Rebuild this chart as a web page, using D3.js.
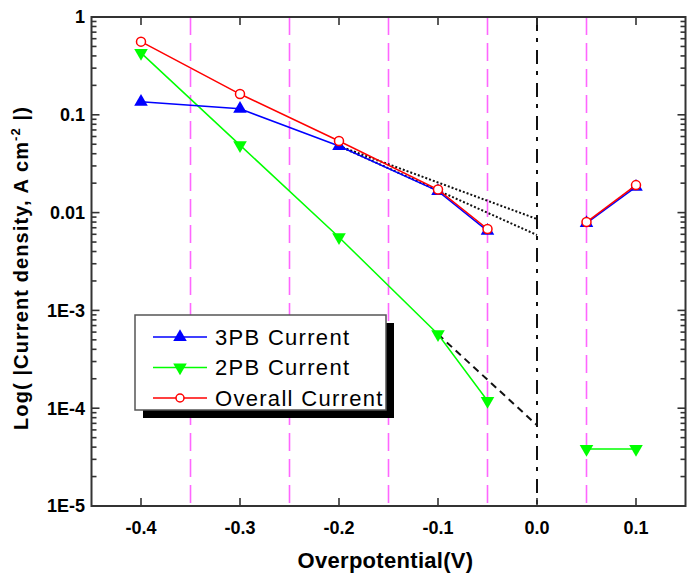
<!DOCTYPE html>
<html>
<head>
<meta charset="utf-8">
<script src="https://cdn.jsdelivr.net/npm/d3@7"></script>
<style>
  html, body { margin: 0; padding: 0; background: #fff; }
  svg { display: block; font-family: "Liberation Sans", Arial, sans-serif; }
</style>
</head>
<body>
<svg id="chart" width="696" height="575"></svg>
<script>
// Overpotential (V) at which currents were measured
const potentials = [-0.4, -0.3, -0.2, -0.1, -0.05, 0.05, 0.1];
// |current density| in A cm^-2
const current3PB = [0.136, 0.115, 0.048, 0.0166, 0.0065, 0.0078, 0.0183];
const current2PB = [0.43, 0.049, 0.0056, 0.00057, 0.000119, 0.0000383, 0.0000383];
const currentOverall = [0.56, 0.163, 0.054, 0.0172, 0.0068, 0.0080, 0.0191];

// Tafel extrapolations towards zero overpotential
const tafelUpper = [[-0.2, 0.048], [0.0, 0.0086]];
const tafelLower = [[-0.2, 0.048], [0.0, 0.0059]];
const tafel2PB = [[-0.1, 0.00057], [0.0, 0.000067]];

// Reference potentials marked with vertical guides
const guidePotentials = [-0.35, -0.25, -0.15, -0.05, 0.05];
const zeroPotential = 0.0;

const xTicks = [-0.4, -0.3, -0.2, -0.1, 0.0, 0.1];
const xTickLabels = ["-0.4", "-0.3", "-0.2", "-0.1", "0.0", "0.1"];
const yTicks = [1e-5, 1e-4, 1e-3, 1e-2, 1e-1, 1];
const yTickLabels = ["1E-5", "1E-4", "1E-3", "0.01", "0.1", "1"];

const seriesNames = ["3PB Current", "2PB Current", "Overall Current"];

const svg = d3.select("#chart");
const L = 91.5, R = 685.5, T = 17, B = 506;

const x = d3.scaleLinear().domain([-0.45, 0.15]).range([L, R]);
const y = d3.scaleLog().domain([1e-5, 1]).range([B, T]);

// vertical guides
svg.append("g").selectAll("line").data(guidePotentials).join("line")
  .attr("x1", d => x(d)).attr("x2", d => x(d))
  .attr("y1", T).attr("y2", B)
  .attr("stroke", "#ff66ff").attr("stroke-width", 1.6)
  .attr("stroke-dasharray", "18,8");

svg.append("line")
  .attr("x1", x(zeroPotential)).attr("x2", x(zeroPotential))
  .attr("y1", T).attr("y2", B)
  .attr("stroke", "#111").attr("stroke-width", 2)
  .attr("stroke-dasharray", "14,7,4,8");

// minor log ticks
const minor = [];
for (let e = -5; e < 0; e++) for (let m = 2; m <= 9; m++) minor.push(m * Math.pow(10, e));

const axisColor = "#333";
const tickG = svg.append("g").attr("stroke", axisColor).attr("stroke-width", 1.6);
tickG.selectAll(".yminL").data(minor).join("line")
  .attr("x1", L).attr("x2", L + 5).attr("y1", d => y(d)).attr("y2", d => y(d));
tickG.selectAll(".yminR").data(minor).join("line")
  .attr("x1", R).attr("x2", R - 5).attr("y1", d => y(d)).attr("y2", d => y(d));
tickG.selectAll(".ymajL").data(yTicks).join("line")
  .attr("x1", L).attr("x2", L + 8).attr("y1", d => y(d)).attr("y2", d => y(d));
tickG.selectAll(".ymajR").data(yTicks).join("line")
  .attr("x1", R).attr("x2", R - 8).attr("y1", d => y(d)).attr("y2", d => y(d));
tickG.selectAll(".xB").data(xTicks).join("line")
  .attr("x1", d => x(d)).attr("x2", d => x(d)).attr("y1", B).attr("y2", B - 8);
tickG.selectAll(".xT").data(xTicks).join("line")
  .attr("x1", d => x(d)).attr("x2", d => x(d)).attr("y1", T).attr("y2", T + 8);

// frame
svg.append("rect").attr("x", L).attr("y", T).attr("width", R - L).attr("height", B - T)
  .attr("fill", "none").attr("stroke", axisColor).attr("stroke-width", 2);

// tick labels
svg.append("g").selectAll("text").data(xTicks).join("text")
  .attr("x", d => x(d)).attr("y", 534)
  .attr("text-anchor", "middle").attr("font-weight", "bold").attr("font-size", 18)
  .text((d, i) => xTickLabels[i]);
svg.append("g").selectAll("text").data(yTicks).join("text")
  .attr("x", 85).attr("y", d => y(d)).attr("dy", "0.36em")
  .attr("text-anchor", "end").attr("font-weight", "bold").attr("font-size", 18)
  .text((d, i) => yTickLabels[i]);

// axis titles
svg.append("text").attr("x", (L + R) / 2 - 3).attr("y", 568)
  .attr("text-anchor", "middle").attr("font-weight", "bold").attr("font-size", 22)
  .attr("letter-spacing", 0.3)
  .text("Overpotential(V)");
const yt = svg.append("text")
  .attr("transform", "translate(28,268) rotate(-90)")
  .attr("text-anchor", "middle").attr("font-weight", "bold").attr("font-size", 20)
  .attr("letter-spacing", 1.1);
yt.append("tspan").text("Log( |Current density, A cm");
yt.append("tspan").attr("font-size", 13).attr("dy", -8).text("-2");
yt.append("tspan").attr("dy", 8).text(" |)");

// Tafel extrapolation lines
const lineXY = d3.line().x(d => x(d[0])).y(d => y(d[1]));
svg.append("path").attr("d", lineXY(tafelUpper)).attr("fill", "none")
  .attr("stroke", "#111").attr("stroke-width", 2).attr("stroke-dasharray", "2,2");
svg.append("path").attr("d", lineXY(tafelLower)).attr("fill", "none")
  .attr("stroke", "#111").attr("stroke-width", 2).attr("stroke-dasharray", "2,2");
svg.append("path").attr("d", lineXY(tafel2PB)).attr("fill", "none")
  .attr("stroke", "#111").attr("stroke-width", 2).attr("stroke-dasharray", "7,5");

// data series, broken across zero overpotential
const triUp = d3.symbol().type(d3.symbolTriangle).size(80);
function series(values, color, marker) {
  const pts = potentials.map((p, i) => [p, values[i]]);
  const groups = [pts.filter(d => d[0] < 0), pts.filter(d => d[0] > 0)];
  const g = svg.append("g");
  g.selectAll("path.seg").data(groups).join("path")
    .attr("d", lineXY).attr("fill", "none").attr("stroke", color).attr("stroke-width", 1.5);
  const m = g.selectAll("g.mk").data(pts).join("g")
    .attr("transform", d => `translate(${x(d[0])},${y(d[1])})`);
  marker(m, color);
}
series(current2PB, "#00ff00", (m, c) => m.append("path").attr("d", triUp())
  .attr("transform", "rotate(180)").attr("fill", c));
series(current3PB, "#0000ff", (m, c) => m.append("path").attr("d", triUp()).attr("fill", c));
series(currentOverall, "#ff0000", (m, c) => m.append("circle").attr("r", 4.5)
  .attr("fill", "#fff").attr("stroke", c).attr("stroke-width", 1.5));

// legend
const lg = svg.append("g");
lg.append("rect").attr("x", 143).attr("y", 323).attr("width", 251).attr("height", 95).attr("fill", "#000");
lg.append("rect").attr("x", 135).attr("y", 315).attr("width", 251).attr("height", 95)
  .attr("fill", "#fff").attr("stroke", "#555").attr("stroke-width", 1.5);
const legendColors = ["#0000ff", "#00ff00", "#ff0000"];
seriesNames.forEach((name, i) => {
  const cy = 337 + i * 30.5;
  lg.append("line").attr("x1", 153).attr("x2", 207).attr("y1", cy).attr("y2", cy)
    .attr("stroke", legendColors[i]).attr("stroke-width", 1.5);
  if (i === 0) lg.append("path").attr("d", triUp()).attr("transform", `translate(180,${cy})`).attr("fill", legendColors[i]);
  if (i === 1) lg.append("path").attr("d", triUp()).attr("transform", `translate(180,${cy}) rotate(180)`).attr("fill", legendColors[i]);
  if (i === 2) lg.append("circle").attr("cx", 180).attr("cy", cy).attr("r", 4)
    .attr("fill", "#fff").attr("stroke", legendColors[i]).attr("stroke-width", 1.5);
  lg.append("text").attr("x", 215).attr("y", cy).attr("dy", "0.36em")
    .attr("font-size", 22).attr("letter-spacing", 1.3).text(name);
});
</script>
</body>
</html>
